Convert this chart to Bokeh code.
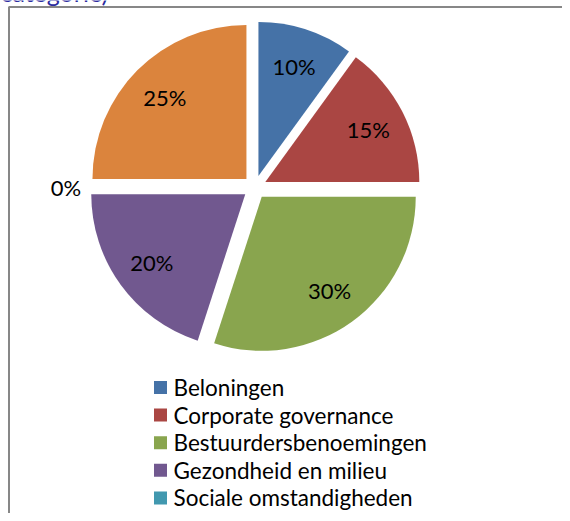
import numpy as np
from bokeh.plotting import figure
from bokeh.models import Range1d, ColumnDataSource
from bokeh.core.properties import value
from bokeh.embed import file_html
from bokeh.resources import INLINE

# ---- data ----
title_text = "categorie)"
categories = ["Beloningen", "Corporate governance", "Bestuurdersbenoemingen",
              "Gezondheid en milieu", "Sociale omstandigheden", "Overig"]
values = [10, 15, 30, 20, 0, 25]
colors = ["#4572A7", "#AA4643", "#89A54E", "#71588F", "#4198AF", "#DB843D"]
legend_shown = 5  # rows visible in the picture

# ---- layout (pixels) ----
W, H = 562, 513
cx, cy = 254.3, H - 186.8
radius = 154
explode = 11.8

p = figure(width=W, height=H, output_backend="svg", toolbar_location=None,
           x_range=Range1d(0, W), y_range=Range1d(0, H),
           min_border=0, min_border_left=0, min_border_right=0,
           min_border_top=0, min_border_bottom=0)
p.axis.visible = False
p.grid.visible = False
p.outline_line_color = None
p.background_fill_color = "white"
p.border_fill_color = "white"

vals = np.array(values, dtype=float)
frac = vals / vals.sum()
cum_end = np.cumsum(frac)
cum_start = cum_end - frac
start_angle = np.pi / 2 - 2 * np.pi * cum_end
end_angle = np.pi / 2 - 2 * np.pi * cum_start
mid = (start_angle + end_angle) / 2
ax = cx + explode * np.cos(mid)
ay = cy + explode * np.sin(mid)

nz = vals > 0
src = ColumnDataSource(dict(x=ax[nz], y=ay[nz], s=start_angle[nz], e=end_angle[nz],
                            c=[c for c, m in zip(colors, nz) if m],
                            cat=[c for c, m in zip(categories, nz) if m]))
p.wedge(x="x", y="y", radius=radius, start_angle="s", end_angle="e",
        fill_color="c", line_color=None, source=src)

# data labels
k = np.where(nz, 0.75, 1.15)
lx = ax + k * radius * np.cos(mid)
ly = ay + k * radius * np.sin(mid)
labels = [f"{int(v)}%" for v in values]
p.text(x=lx, y=ly, text=labels, text_align="center", text_baseline="middle",
       text_font=value("Lato"), text_font_size="22px", text_color="black")

# legend
row0 = H - 387
row_step = 27.6
ly_leg = row0 - row_step * np.arange(legend_shown)
p.scatter(x=[160] * legend_shown, y=ly_leg, marker="square", size=13,
          fill_color=colors[:legend_shown], line_color=None)
p.text(x=[173] * legend_shown, y=ly_leg, text=categories[:legend_shown],
       text_align="left", text_baseline="middle",
       text_font=value("Lato"), text_font_size="22.5px", text_color="black")

# chart border (left and top edges visible)
p.line(x=[8.5, 8.5, W + 50], y=[-50, H - 6.5, H - 6.5], line_color="#878787",
       line_width=2)

# cut-off title
p.text(x=[0], y=[H - 6], text=[title_text], text_align="left",
       text_baseline="bottom", text_font=value("Lato"),
       text_font_size="25px", text_color="#2B2BA0")

open("out.html", "w").write(file_html(p, INLINE))
